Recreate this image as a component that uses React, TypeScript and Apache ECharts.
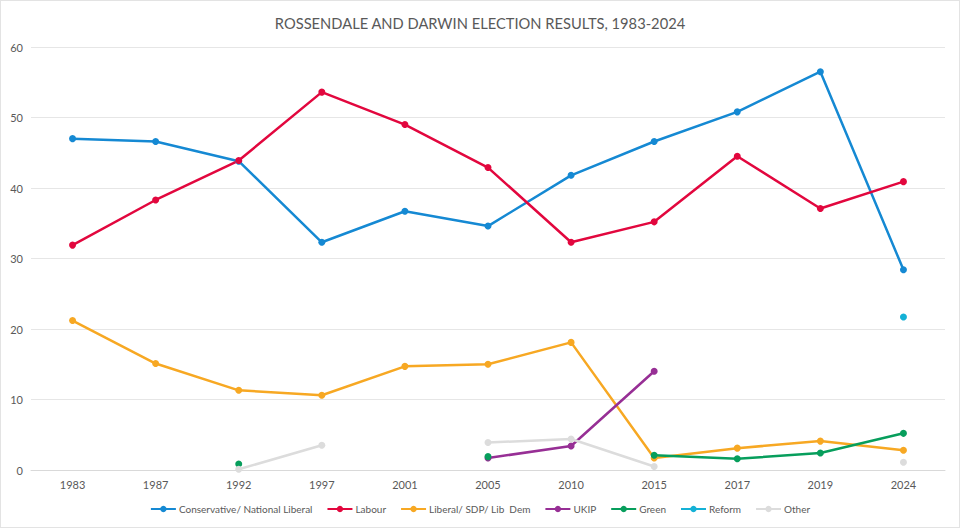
import React, { useEffect, useRef } from "react";
import * as echarts from "echarts";

const years = ["1983", "1987", "1992", "1997", "2001", "2005", "2010", "2015", "2017", "2019", "2024"];
const conservative = [47.0, 46.6, 43.8, 32.3, 36.7, 34.6, 41.8, 46.6, 50.8, 56.5, 28.4];
const labour = [31.9, 38.3, 43.9, 53.6, 49.0, 42.9, 32.3, 35.2, 44.5, 37.1, 40.9];
const libDem = [21.2, 15.1, 11.3, 10.6, 14.7, 15.0, 18.1, 1.7, 3.1, 4.1, 2.8];
const ukip = [null, null, null, null, null, 1.7, 3.4, 14.0, null, null, null];
const green = [null, null, 0.85, null, null, 1.9, null, 2.1, 1.6, 2.4, 5.2];
const reform = [null, null, null, null, null, null, null, null, null, null, 21.7];
const other = [null, null, 0.1, 3.5, null, 3.9, 4.4, 0.5, null, null, 1.1];
const yTicks = { min: 0, max: 60, interval: 10 };

const seriesDefs = [
  { name: "Conservative/ National Liberal", data: conservative, color: "#1589D3" },
  { name: "Labour", data: labour, color: "#E2073E" },
  { name: "Liberal/ SDP/ Lib  Dem", data: libDem, color: "#F7A823" },
  { name: "UKIP", data: ukip, color: "#972F95" },
  { name: "Green", data: green, color: "#079E5C" },
  { name: "Reform", data: reform, color: "#14B1D6" },
  { name: "Other", data: other, color: "#DCDCDC" },
];

export default function App() {
  const ref = useRef<HTMLDivElement>(null);
  useEffect(() => {
    if (!ref.current) return;
    const chart = echarts.init(ref.current, null, { renderer: "svg" });
    const font = "Lato";
    chart.setOption({
      animation: false,
      backgroundColor: "#ffffff",
      title: {
        text: "ROSSENDALE AND DARWIN ELECTION RESULTS, 1983-2024",
        left: "center",
        top: 9,
        textStyle: { fontFamily: font, fontSize: 14.7, fontWeight: "normal", color: "#595959" },
      },
      legend: {
        bottom: 8,
        left: "center",
        itemWidth: 25,
        itemHeight: 8,
        itemGap: 14,
        textStyle: { fontFamily: font, fontSize: 10, color: "#595959", padding: [0, 0, 0, -2] },
        data: seriesDefs.map((s) => s.name),
      },
      grid: { left: 30, right: 14, top: 46, bottom: 57, containLabel: false },
      xAxis: {
        type: "category",
        data: years,
        boundaryGap: true,
        axisTick: { show: false },
        axisLine: { lineStyle: { color: "#D9D9D9", width: 1 } },
        axisLabel: { fontFamily: font, fontSize: 11, color: "#595959", margin: 9 },
      },
      yAxis: {
        type: "value",
        min: yTicks.min,
        max: yTicks.max,
        interval: yTicks.interval,
        axisLine: { show: false },
        axisTick: { show: false },
        splitLine: { lineStyle: { color: "#E6E6E6", width: 1 } },
        axisLabel: { fontFamily: font, fontSize: 11, color: "#595959", margin: 8 },
      },
      series: seriesDefs.map((s) => ({
        name: s.name,
        type: "line",
        data: s.data,
        connectNulls: false,
        symbol: "circle",
        symbolSize: 7,
        showSymbol: true,
        lineStyle: { width: 2.5, color: s.color },
        itemStyle: { color: s.color },
      })),
    });
    return () => chart.dispose();
  }, []);
  return (
    <div
      style={{
        position: "fixed",
        left: 0,
        top: 0,
        width: 960,
        height: 528,
        boxSizing: "border-box",
        border: "1px solid #E3E3E3",
        background: "#fff",
      }}
    >
      <div ref={ref} style={{ width: 958, height: 526 }} />
    </div>
  );
}
